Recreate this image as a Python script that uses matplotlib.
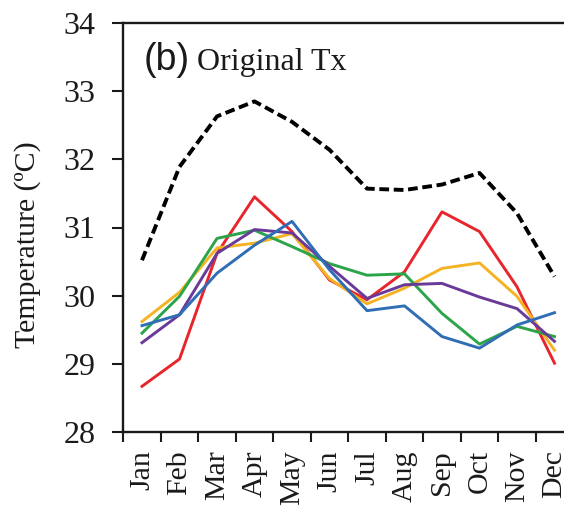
import matplotlib
matplotlib.use("Agg")
import matplotlib.pyplot as plt
import numpy as np

months = ["Jan", "Feb", "Mar", "Apr", "May", "Jun",
          "Jul", "Aug", "Sep", "Oct", "Nov", "Dec"]

# Monthly mean maximum temperature (degC)
observed = [30.52, 31.89, 32.63, 32.85, 32.55, 32.14,
            31.57, 31.55, 31.63, 31.80, 31.21, 30.28]
model_red = [28.67, 29.07, 30.62, 31.45, 30.94, 30.23,
             29.94, 30.35, 31.23, 30.94, 30.13, 29.01]
model_yellow = [29.62, 30.05, 30.70, 30.77, 30.91, 30.25,
                29.88, 30.11, 30.40, 30.48, 29.99, 29.20]
model_green = [29.45, 29.99, 30.84, 30.96, 30.72, 30.47,
               30.30, 30.32, 29.74, 29.29, 29.55, 29.40]
model_purple = [29.31, 29.72, 30.62, 30.97, 30.92, 30.43,
                29.96, 30.16, 30.18, 29.98, 29.81, 29.33]
model_blue = [29.56, 29.72, 30.33, 30.74, 31.09, 30.38,
              29.78, 29.85, 29.40, 29.23, 29.57, 29.75]

y_ticks = [28, 29, 30, 31, 32, 33, 34]

W, H = 564, 513
fig = plt.figure(figsize=(W / 100, H / 100), dpi=100)
fig.patch.set_facecolor("white")

left_px, right_px, top_px, bottom_px = 123.25, 573.25, 23, 432
ax = fig.add_axes([left_px / W, 1 - bottom_px / H,
                   (right_px - left_px) / W, (bottom_px - top_px) / H])

x = np.arange(len(months))
lw = 2.1
ax.plot(x, model_red, color="#e8252b", lw=lw, zorder=3)
ax.plot(x, model_yellow, color="#f4b323", lw=lw, zorder=3)
ax.plot(x, model_green, color="#2ca44a", lw=lw, zorder=3)
ax.plot(x, model_purple, color="#6a3a98", lw=lw, zorder=3)
ax.plot(x, model_blue, color="#2f6db5", lw=lw, zorder=3)
ax.plot(x, observed, color="black", lw=2.8, linestyle=(0, (2.5, 1.2)),
        zorder=4)

ax.set_xlim(-0.5, len(months) - 0.5)
ax.set_ylim(28, 34)

serif = "Liberation Serif"
ink = "#1a1a1a"

ax.set_yticks(y_ticks)
ax.set_yticklabels([str(v) for v in y_ticks], fontsize=23, family=serif)
ax.tick_params(axis="y", direction="out", length=8, width=1.5,
               pad=12, colors=ink, labelcolor=ink)

ax.set_xticks(x)
ax.set_xticklabels(months, rotation=90, fontsize=21.5, family=serif,
                   va="top", ha="center")
ax.tick_params(axis="x", which="major", length=0, pad=13,
               labelcolor=ink)
ax.set_xticks(np.arange(-0.5, len(months)), minor=True)
ax.tick_params(axis="x", which="minor", direction="out", length=7,
               width=1.5, color=ink)

for s in ax.spines.values():
    s.set_linewidth(1.7)
    s.set_color(ink)

# Y-axis label
fig.text(28 / W, 1 - 245 / H, "Temperature (\u00baC)", rotation=90,
         ha="center", va="center", fontsize=21.5, family=serif,
         color=ink)

# Panel title
fig.text(144 / W, 1 - 70 / H, "(b)", fontsize=27,
         family="Liberation Sans", color=ink, va="baseline",
         ha="left")
fig.text(197 / W, 1 - 70 / H, "Original Tx", fontsize=23,
         family=serif, color=ink, va="baseline", ha="left")

fig.savefig("out.png", dpi=100, facecolor="white")
